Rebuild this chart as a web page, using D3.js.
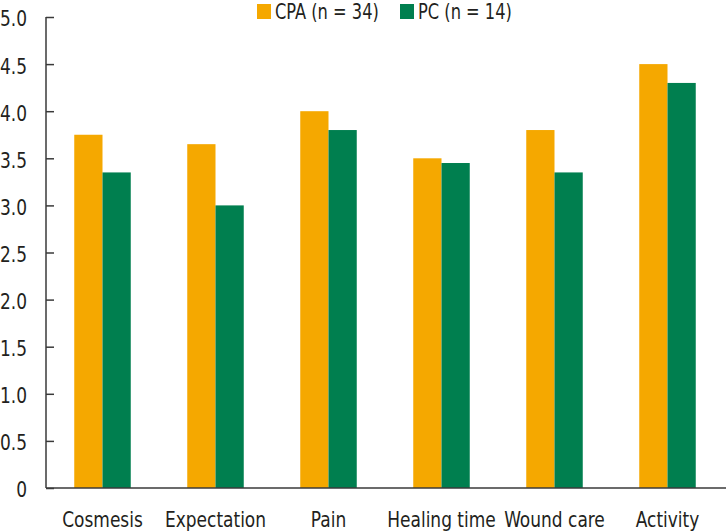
<!DOCTYPE html>
<html>
<head>
<meta charset="utf-8">
<script src="https://cdn.jsdelivr.net/npm/d3@7"></script>
<style>
  body { margin: 0; background: #fff; }
  text { font-family: "DejaVu Sans Condensed", "Liberation Sans Narrow", sans-serif; fill: #231f20; }
</style>
</head>
<body>
<div id="chart"></div>
<script>
// Data
var categories = ["Cosmesis", "Expectation", "Pain", "Healing time", "Wound care", "Activity"];
var seriesNames = ["CPA (n = 34)", "PC (n = 14)"];
var cpaValues = [3.75, 3.65, 4.0, 3.5, 3.8, 4.5];
var pcValues = [3.35, 3.0, 3.8, 3.45, 3.35, 4.3];
var yTicks = [0, 0.5, 1.0, 1.5, 2.0, 2.5, 3.0, 3.5, 4.0, 4.5, 5.0];
var colors = ["#f5a800", "#007f4f"];

var svgWidth = 726;
var svgHeight = 531;

var margin = { top: 17, right: 2, bottom: 43, left: 46 };
var width = svgWidth - margin.left - margin.right;
var height = svgHeight - margin.top - margin.bottom;

// the original type is a tall condensed face, so squeeze the text a bit
var fontSize = "22px";
var squeeze = 0.86;

var svg = d3.select("#chart").append("svg")
    .attr("width", svgWidth)
    .attr("height", svgHeight);

var chartGroup = svg.append("g")
    .attr("transform", `translate(${margin.left}, ${margin.top})`);

// Scales
var xScale = d3.scaleBand()
    .domain(categories)
    .range([0, 678])
    .paddingInner(0.5)
    .paddingOuter(0.25);

var xSub = d3.scaleBand()
    .domain([0, 1])
    .range([0, xScale.bandwidth()]);

var yScale = d3.scaleLinear()
    .domain([0, 5])
    .range([height, 0]);

// Bars
var rows = categories.map((c, i) => ({ cat: c, vals: [cpaValues[i], pcValues[i]] }));

var groups = chartGroup.selectAll(".grp")
    .data(rows)
    .enter()
    .append("g")
    .attr("transform", d => `translate(${xScale(d.cat)}, 0)`);

groups.selectAll("rect")
    .data(d => d.vals.map((v, k) => ({ k: k, v: v })))
    .enter()
    .append("rect")
    .attr("x", d => xSub(d.k))
    .attr("width", xSub.bandwidth())
    .attr("y", d => yScale(d.v))
    .attr("height", d => height - yScale(d.v))
    .attr("fill", d => colors[d.k]);

// Y axis (ticks point inward)
var leftAxis = d3.axisRight(yScale)
    .tickValues(yTicks)
    .tickSize(8)
    .tickFormat(d => d === 0 ? "0" : d3.format(".1f")(d));

var yAxis = chartGroup.append("g").call(leftAxis);
yAxis.select(".domain").remove();
yAxis.selectAll("line").attr("stroke", "#3a3a3a").attr("stroke-width", 1.5);
yAxis.selectAll("text")
    .attr("x", 0)
    .attr("dy", "0.36em")
    .attr("transform", `translate(-19, 1) scale(${squeeze}, 1)`)
    .attr("text-anchor", "end")
    .style("font-size", fontSize);

chartGroup.append("line")
    .attr("x1", 0).attr("x2", 0)
    .attr("y1", 0).attr("y2", height)
    .attr("stroke", "#3a3a3a").attr("stroke-width", 1.5);

// X axis
chartGroup.append("line")
    .attr("x1", 0).attr("x2", svgWidth - margin.left)
    .attr("y1", height).attr("y2", height)
    .attr("stroke", "#3a3a3a").attr("stroke-width", 1.5);

chartGroup.selectAll(".xlab")
    .data(categories)
    .enter()
    .append("text")
    .attr("transform", d => `translate(${xScale(d) + xScale.bandwidth() / 2}, ${height + 39}) scale(${squeeze}, 1)`)
    .attr("text-anchor", "middle")
    .style("font-size", fontSize)
    .text(d => d);

// Legend
var legendX = [257, 400];
var legend = svg.selectAll(".leg")
    .data(seriesNames)
    .enter()
    .append("g")
    .attr("transform", (d, i) => `translate(${legendX[i]}, 4)`);

legend.append("rect")
    .attr("width", 14)
    .attr("height", 15)
    .attr("fill", (d, i) => colors[i]);

legend.append("text")
    .attr("transform", `translate(18, 15) scale(${squeeze}, 1)`)
    .style("font-size", "21px")
    .text(d => d);
</script>
</body>
</html>
